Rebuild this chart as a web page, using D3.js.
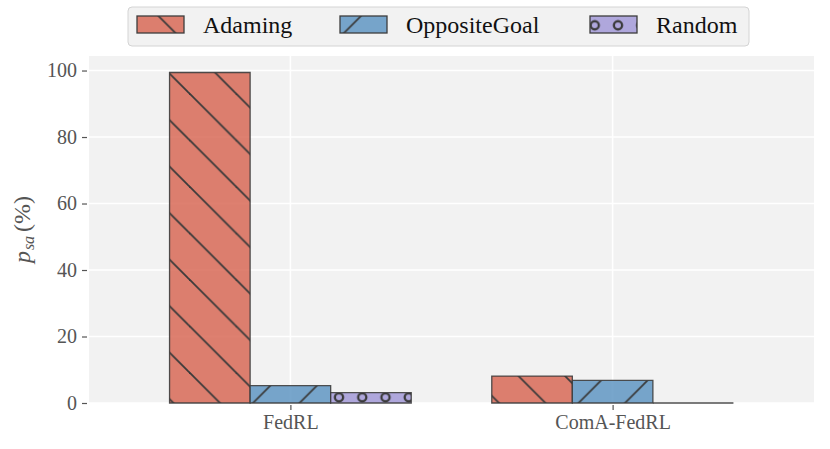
<!DOCTYPE html>
<html>
<head>
<meta charset="utf-8">
<script src="https://cdn.jsdelivr.net/npm/d3@7"></script>
<style>
  body { margin: 0; background: #fff; }
  text { font-family: "Liberation Serif", "DejaVu Serif", serif; }
</style>
</head>
<body>
<div id="graph"></div>
<script>
var groups = ["FedRL", "ComA-FedRL"]
var series = ["Adaming", "OppositeGoal", "Random"]
var adaming = [99.4, 8.1]
var oppositeGoal = [5.2, 6.8]
var random = [3.1, 0]
var yTicks = [0, 20, 40, 60, 80, 100]

var values = [adaming, oppositeGoal, random]
var colors = ["#d86a57", "#6097c3", "#a39ad8"]
var hatches = ["hatch-back", "hatch-fwd", "hatch-circ"]

const width = 830, height = 449
const margin = { left: 89, right: 16, top: 56, bottom: 46 }

const svg = d3.select("#graph")
    .append("svg")
        .attr("width", width)
        .attr("height", height)

// hatch patterns in page coordinates, so they line up over every bar
const defs = svg.append("defs")
const step = 46.5
const hatchColor = "#3a3a3a"

const back = defs.append("pattern").attr("id", "hatch-back")
    .attr("patternUnits", "userSpaceOnUse")
    .attr("x", 3).attr("y", 0).attr("width", step).attr("height", step)
back.selectAll("line").data([[0, 0, step, step], [-6, step - 6, 6, step + 6], [step - 6, -6, step + 6, 6]])
    .enter().append("line")
        .attr("x1", d => d[0]).attr("y1", d => d[1]).attr("x2", d => d[2]).attr("y2", d => d[3])
        .attr("stroke", hatchColor).attr("stroke-width", 1.8)

const fwd = defs.append("pattern").attr("id", "hatch-fwd")
    .attr("patternUnits", "userSpaceOnUse")
    .attr("x", 5).attr("y", 0).attr("width", step).attr("height", step)
fwd.selectAll("line").data([[0, step, step, 0], [-6, 6, 6, -6], [step - 6, step + 6, step + 6, step - 6]])
    .enter().append("line")
        .attr("x1", d => d[0]).attr("y1", d => d[1]).attr("x2", d => d[2]).attr("y2", d => d[3])
        .attr("stroke", hatchColor).attr("stroke-width", 1.8)

const circ = defs.append("pattern").attr("id", "hatch-circ")
    .attr("patternUnits", "userSpaceOnUse")
    .attr("x", 13.5).attr("y", 397.3 % (step / 2)).attr("width", step / 2).attr("height", step / 2)
circ.selectAll("circle").data([[0, 0], [step / 2, 0], [0, step / 2], [step / 2, step / 2]])
    .enter().append("circle")
        .attr("cx", d => d[0]).attr("cy", d => d[1]).attr("r", 4.1)
        .attr("fill", "none").attr("stroke", hatchColor).attr("stroke-width", 2.3)

const x = d3.scaleLinear().domain([-0.625, groups.length - 1 + 0.625]).range([margin.left, width - margin.right])
const ymax = d3.max(values.flat()) * 1.05
const y = d3.scaleLinear().domain([0, ymax]).range([height - margin.bottom, margin.top])
const barW = 0.25

// plot background
svg.append("rect")
    .attr("x", x.range()[0]).attr("y", y.range()[1])
    .attr("width", x.range()[1] - x.range()[0])
    .attr("height", y.range()[0] - y.range()[1])
    .attr("fill", "#f2f2f2")

// grid
svg.append("g").selectAll("line").data(yTicks).enter().append("line")
    .attr("x1", x.range()[0]).attr("x2", x.range()[1])
    .attr("y1", d => y(d)).attr("y2", d => y(d))
    .attr("stroke", "#fff").attr("stroke-width", 1.6)
svg.append("g").selectAll("line").data(groups).enter().append("line")
    .attr("x1", (d, i) => x(i)).attr("x2", (d, i) => x(i))
    .attr("y1", y.range()[0]).attr("y2", y.range()[1])
    .attr("stroke", "#fff").attr("stroke-width", 1.6)

// axes
const yAxis = svg.append("g")
    .attr("transform", `translate(${x.range()[0] - 2}, 0)`)
    .call(d3.axisLeft(y).tickValues(yTicks).tickSize(5).tickPadding(5))
const xAxis = svg.append("g")
    .attr("transform", `translate(0, ${y.range()[0] + 2})`)
    .call(d3.axisBottom(x).tickValues(groups.map((d, i) => i)).tickFormat(i => groups[i]).tickSize(5).tickPadding(5))
svg.selectAll(".domain").remove()
svg.selectAll(".tick line").attr("stroke", "#555").attr("stroke-width", 1.2)
svg.selectAll(".tick text").attr("fill", "#555").style("font-size", "20px")
    .style("font-family", "'Liberation Serif', serif")

// y label
const yl = svg.append("text")
    .attr("transform", `translate(30, ${(y.range()[0] + y.range()[1]) / 2}) rotate(-90)`)
    .attr("text-anchor", "middle")
    .attr("fill", "#555")
    .style("font-size", "24px")
yl.append("tspan").text("p").style("font-style", "italic")
yl.append("tspan").text("sa").style("font-style", "italic").style("font-size", "16px").attr("dy", 4).attr("dx", 1)
yl.append("tspan").text("(%)").attr("dy", -4).attr("dx", 4)

// bars
const barPath = (x0, x1, y0, y1) => `M${x0},${y0}H${x1}V${y1}H${x0}Z`
series.forEach((s, k) => {
    const g = svg.append("g")
    const off = (k - 1) * barW
    const data = values[k].map((v, i) => ({ i: i, v: v }))
    g.selectAll("path.fill").data(data).enter().append("path")
        .attr("d", d => barPath(x(d.i + off - barW / 2), x(d.i + off + barW / 2), y(0), y(d.v)))
        .attr("fill", colors[k]).attr("fill-opacity", 0.85)
    g.selectAll("path.hatch").data(data).enter().append("path")
        .attr("d", d => barPath(x(d.i + off - barW / 2), x(d.i + off + barW / 2), y(0), y(d.v)))
        .attr("fill", `url(#${hatches[k]})`)
        .attr("stroke", "#3d3d3d").attr("stroke-opacity", 0.9).attr("stroke-width", 1.3)
})

// legend
const leg = svg.append("g")
leg.append("rect")
    .attr("x", 128).attr("y", 7).attr("width", 621).attr("height", 39).attr("rx", 4)
    .attr("fill", "#f2f2f2").attr("stroke", "#d4d4d4").attr("stroke-width", 1)
const legX = [137, 340, 590]
series.forEach((s, k) => {
    leg.append("rect").attr("x", legX[k]).attr("y", 16).attr("width", 47).attr("height", 17)
        .attr("fill", colors[k]).attr("fill-opacity", 0.85)
    leg.append("rect").attr("x", legX[k]).attr("y", 16).attr("width", 47).attr("height", 17)
        .attr("fill", `url(#${hatches[k]})`)
        .attr("stroke", "#3d3d3d").attr("stroke-width", 1.3)
    leg.append("text").attr("x", legX[k] + 66).attr("y", 33)
        .attr("fill", "#111").style("font-size", "24px").text(s)
})
</script>
</body>
</html>
